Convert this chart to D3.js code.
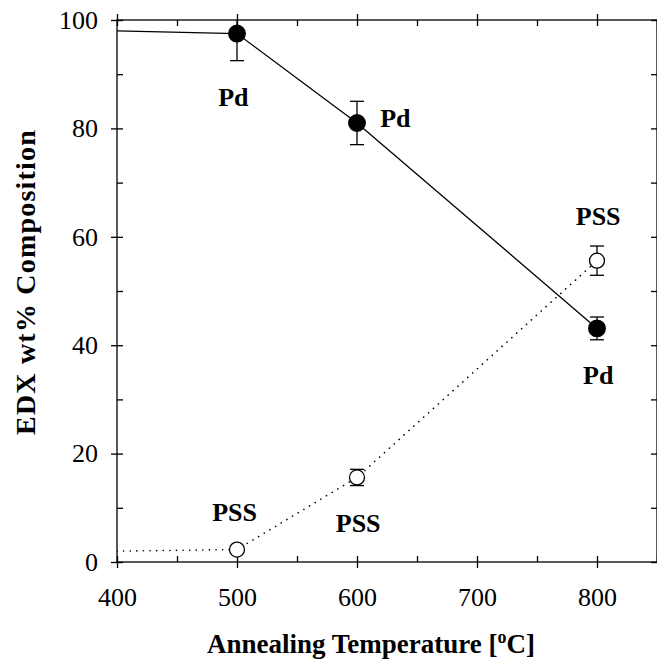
<!DOCTYPE html>
<html>
<head>
<meta charset="utf-8">
<script src="https://cdn.jsdelivr.net/npm/d3@7"></script>
<style>
  body { margin: 0; background: #fff; }
  text { font-family: "Liberation Serif", "Times New Roman", serif; fill: #000; }
</style>
</head>
<body>
<svg id="chart" width="657" height="667"></svg>
<script>
"use strict";

// annealing temperature (C)
const temps = [400, 500, 600, 800];
// Pd wt% and its error
const pdValues = [98.0, 97.5, 81.0, 43.1];
const pdErrors = [0, 5.0, 4.0, 2.1];
// PSS wt% and its error
const pssValues = [2.0, 2.3, 15.6, 55.6];
const pssErrors = [0, 0, 1.5, 2.7];
// which points carry a marker (the 400 point has none)
const hasMarker = [false, true, true, true];

const xMajor = [400, 500, 600, 700, 800];
const xMinor = [450, 550, 650, 750, 850];
const yMajor = [0, 20, 40, 60, 80, 100];
const yMinor = [10, 30, 50, 70, 90];

const labels = [
  { text: "Pd", x: 497, y: 84.2 },
  { text: "Pd", x: 632, y: 80.3 },
  { text: "Pd", x: 801, y: 32.8 },
  { text: "PSS", x: 801, y: 62.2 },
  { text: "PSS", x: 498, y: 7.6 },
  { text: "PSS", x: 601, y: 5.5 }
];

const svg = d3.select("#chart");
const plotLeft = 117, plotRight = 657, plotTop = 20, plotBottom = 562;

const x = d3.scaleLinear().domain([400, 850]).range([plotLeft, plotRight]);
const y = d3.scaleLinear().domain([0, 100]).range([plotBottom, plotTop]);

const TICK = 6;

// frame lines
svg.append("rect")
  .attr("x", plotLeft).attr("y", plotTop)
  .attr("width", plotRight - plotLeft).attr("height", plotBottom - plotTop)
  .attr("fill", "none").attr("stroke", "#000").attr("stroke-width", 1.3);

function styleAxis(g) {
  g.select(".domain").remove();
  g.selectAll("line").attr("stroke", "#000").attr("stroke-width", 1.3);
  g.selectAll("text").attr("font-size", 26);
}

// bottom axis, major ticks cross the frame
const bottomAxis = svg.append("g")
  .attr("transform", `translate(0,${plotBottom})`)
  .call(d3.axisBottom(x).tickValues(xMajor).tickSize(TICK).tickPadding(20).tickFormat(d3.format("d")))
  .call(styleAxis);
bottomAxis.selectAll(".tick line").attr("y1", -TICK);

svg.append("g")
  .attr("transform", `translate(0,${plotBottom})`)
  .call(d3.axisBottom(x).tickValues(xMinor).tickSize(-TICK).tickFormat(""))
  .call(styleAxis);

// top axis
svg.append("g")
  .attr("transform", `translate(0,${plotTop})`)
  .call(d3.axisTop(x).tickValues(xMajor).tickSize(TICK).tickFormat(""))
  .call(styleAxis)
  .selectAll(".tick line").attr("y1", TICK);

svg.append("g")
  .attr("transform", `translate(0,${plotTop})`)
  .call(d3.axisTop(x).tickValues(xMinor).tickSize(-TICK).tickFormat(""))
  .call(styleAxis);

// left axis
const leftAxis = svg.append("g")
  .attr("transform", `translate(${plotLeft},0)`)
  .call(d3.axisLeft(y).tickValues(yMajor).tickSize(TICK).tickPadding(13).tickFormat(d3.format("d")))
  .call(styleAxis);
leftAxis.selectAll(".tick line").attr("x1", TICK);

svg.append("g")
  .attr("transform", `translate(${plotLeft},0)`)
  .call(d3.axisLeft(y).tickValues(yMinor).tickSize(-TICK).tickFormat(""))
  .call(styleAxis);

// right axis (inward ticks only, sits on the page edge)
svg.append("g")
  .attr("transform", `translate(${plotRight},0)`)
  .call(d3.axisRight(y).tickValues(yMajor.concat(yMinor)).tickSize(-TICK).tickFormat(""))
  .call(styleAxis);

// data
const pdData = temps.map((t, i) => ({ t: t, v: pdValues[i], e: pdErrors[i], m: hasMarker[i] }));
const pssData = temps.map((t, i) => ({ t: t, v: pssValues[i], e: pssErrors[i], m: hasMarker[i] }));

svg.append("clipPath").attr("id", "plotClip")
  .append("rect")
  .attr("x", plotLeft).attr("y", plotTop)
  .attr("width", plotRight - plotLeft).attr("height", plotBottom - plotTop);

const plot = svg.append("g").attr("clip-path", "url(#plotClip)");

const line = d3.line().x((d) => x(d.t)).y((d) => y(d.v));

plot.append("path")
  .datum(pssData)
  .attr("d", line)
  .attr("fill", "none")
  .attr("stroke", "#000")
  .attr("stroke-width", 1.6)
  .attr("stroke-linecap", "round")
  .attr("stroke-dasharray", "0.1,6.5");

plot.append("path")
  .datum(pdData)
  .attr("d", line)
  .attr("fill", "none")
  .attr("stroke", "#000")
  .attr("stroke-width", 1.3);

function drawSeries(data, filled, r) {
  const pts = data.filter((d) => d.m);
  const bars = plot.selectAll(null).data(pts.filter((d) => d.e > 0)).enter().append("g");
  bars.append("line")
    .attr("x1", (d) => x(d.t)).attr("x2", (d) => x(d.t))
    .attr("y1", (d) => y(d.v - d.e)).attr("y2", (d) => y(d.v + d.e))
    .attr("stroke", "#000").attr("stroke-width", 1.3);
  [-1, 1].forEach((s) => {
    bars.append("line")
      .attr("x1", (d) => x(d.t) - 7).attr("x2", (d) => x(d.t) + 7)
      .attr("y1", (d) => y(d.v + s * d.e)).attr("y2", (d) => y(d.v + s * d.e))
      .attr("stroke", "#000").attr("stroke-width", 1.3);
  });
  plot.selectAll(null).data(pts).enter().append("circle")
    .attr("cx", (d) => x(d.t))
    .attr("cy", (d) => y(d.v))
    .attr("r", r)
    .attr("fill", filled ? "#000" : "#fff")
    .attr("stroke", "#000")
    .attr("stroke-width", 1.3);
}

drawSeries(pssData, false, 7.5);
drawSeries(pdData, true, 8.3);

// labels
svg.selectAll(".lbl").data(labels).enter().append("text")
  .attr("class", "lbl")
  .attr("x", (d) => x(d.x))
  .attr("y", (d) => y(d.y))
  .attr("text-anchor", "middle")
  .attr("font-size", 26)
  .attr("font-weight", "bold")
  .text((d) => d.text);

// axis titles
const xTitle = svg.append("text")
  .attr("x", 371).attr("y", 653)
  .attr("text-anchor", "middle")
  .attr("font-size", 27)
  .attr("font-weight", "bold");
xTitle.append("tspan").text("Annealing Temperature [");
xTitle.append("tspan").attr("dy", -10).attr("font-size", 18).text("o");
xTitle.append("tspan").attr("dy", 10).text("C]");

svg.append("text")
  .attr("transform", "translate(35,282) rotate(-90)")
  .attr("text-anchor", "middle")
  .attr("font-size", 28)
  .attr("letter-spacing", 1.2)
  .attr("font-weight", "bold")
  .text("EDX wt% Composition");
</script>
</body>
</html>
